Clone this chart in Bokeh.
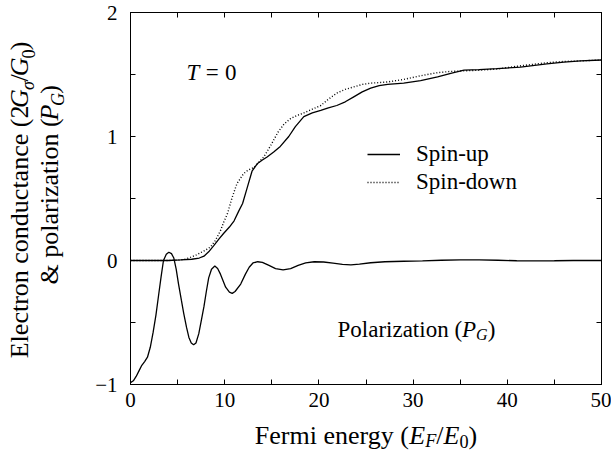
import math
from bokeh.plotting import figure
from bokeh.models import Range1d, FixedTicker, LinearAxis, Label, Legend, LegendItem
from bokeh.layouts import row, column
from bokeh.embed import file_html
from bokeh.resources import INLINE

# ---------------- data ----------------
pol_x = [0, 0.3, 0.6, 0.9, 1.2, 1.5, 1.8, 2.1, 2.4, 2.7, 3.0, 3.25, 3.5, 3.8, 4.07, 4.35,
         4.6, 4.85, 5.1, 5.4, 5.66, 5.95, 6.2, 6.45, 6.7, 6.95, 7.25, 7.5, 7.8, 8.05, 8.3,
         8.6, 8.95, 9.25, 9.55, 10.1, 10.5, 10.8, 11.1, 11.7, 12.2, 12.6, 13.0, 13.5, 14.0,
         14.7, 15.4, 16.2, 17.0, 17.8, 18.6, 19.5, 20.5, 21.5, 22.5, 23.4, 24.3, 25.5, 27,
         29, 31, 33, 35, 37, 39, 41, 43, 45, 47, 50]
pol_y = [-0.985, -0.97, -0.935, -0.89, -0.845, -0.815, -0.78, -0.70, -0.58, -0.44, -0.27,
         -0.13, 0.0, 0.05, 0.067, 0.055, 0.02, -0.07, -0.19, -0.32, -0.43, -0.54, -0.62,
         -0.665, -0.68, -0.665, -0.59, -0.49, -0.37, -0.25, -0.14, -0.07, -0.045, -0.065,
         -0.11, -0.215, -0.255, -0.265, -0.25, -0.19, -0.11, -0.054, -0.02, -0.01, -0.015,
         -0.04, -0.065, -0.075, -0.065, -0.04, -0.02, -0.01, -0.012, -0.022, -0.032, -0.035,
         -0.03, -0.018, -0.01, -0.006, -0.003, 0.002, 0.005, 0.005, 0.002, -0.002, -0.003,
         -0.002, 0.0, 0.0]

up_x = [0, 2, 4, 5.3, 6.5, 7.3, 7.8, 8.3, 8.84, 9.4, 9.9, 10.5, 11.0, 11.5, 11.9, 12.4,
        12.9, 13.45, 14.0, 14.5, 15.2, 15.9, 16.8, 17.5, 18.4, 19.3, 20.2, 21.0, 21.9, 22.8,
        23.7, 24.6, 25.5, 26.4, 27.3, 29.0, 30.8, 32.6, 34, 35.4, 37, 38.9, 41.4, 44.2, 46,
        47.8, 50]
up_y = [0, 0, 0, 0.005, 0.01, 0.02, 0.035, 0.07, 0.12, 0.175, 0.22, 0.27, 0.32, 0.40, 0.46,
        0.59, 0.72, 0.78, 0.81, 0.835, 0.875, 0.92, 1.0, 1.08, 1.16, 1.19, 1.21, 1.23, 1.25,
        1.28, 1.32, 1.36, 1.39, 1.41, 1.42, 1.43, 1.45, 1.48, 1.51, 1.535, 1.54, 1.547, 1.56,
        1.585, 1.60, 1.61, 1.617]

down_x = [0, 4, 5.0, 5.7, 6.4, 7.0, 7.5, 8.0, 8.5, 9.0, 9.55, 9.9, 10.3, 10.8, 11.3, 12.0,
          12.5, 13.1, 13.6, 14.15, 14.9, 15.7, 16.3, 17.0, 17.7, 18.4, 19.3, 20.2, 21.0, 21.9,
          22.8, 23.7, 24.6, 25.5, 27.3, 29.0, 30.8, 32.6, 34, 37.2, 39, 40.7, 42.5, 44.2, 46,
          47.8, 50]
down_y = [0, 0, 0.003, 0.008, 0.027, 0.045, 0.065, 0.085, 0.11, 0.16, 0.24, 0.31, 0.38,
          0.51, 0.62, 0.70, 0.73, 0.75, 0.79, 0.835, 0.93, 1.04, 1.10, 1.145, 1.17, 1.19,
          1.22, 1.25, 1.30, 1.35, 1.38, 1.40, 1.42, 1.43, 1.44, 1.46, 1.49, 1.515, 1.525,
          1.535, 1.545, 1.563, 1.58, 1.595, 1.605, 1.61, 1.617]

x_major = [0, 10, 20, 30, 40, 50]
x_minor = [5, 15, 25, 35, 45]
y_major = [-1, 0, 1, 2]
y_minor = [-0.5, 0.5, 1.5]
y_tick_labels = {-1: "\u22121", 0: "0", 1: "1", 2: "2"}

# ---------------- layout ----------------
W, H = 611, 454
YW = 92            # width of the strip carrying the y-axis title
XH = 38            # height of the strip carrying the x-axis title
PW, PH = W - YW, H - XH
FL, FR, FT, FB = 130, 601, 12, 384   # frame edges in page px
XMIN, XMAX, YMIN, YMAX = 0, 50, -1, 2
FONT = "Liberation Serif"
TICK_FS = "21px"
TXT = 23
LBL = 26

p = figure(width=PW, height=PH, output_backend="svg", toolbar_location=None,
           x_range=Range1d(XMIN, XMAX), y_range=Range1d(YMIN, YMAX),
           min_border_left=FL - YW, min_border_right=W - FR, min_border_top=FT,
           min_border_bottom=PH - FB, x_axis_type=None, y_axis_type=None)
p.grid.visible = False
p.outline_line_color = "black"
p.outline_line_width = 1
p.background_fill_color = "white"
p.border_fill_color = "white"


def style_axis(ax, show_labels, standoff=8):
    ax.axis_line_color = "black"
    ax.axis_line_width = 1
    ax.major_tick_in = 5
    ax.major_tick_out = 0
    ax.minor_tick_in = 5
    ax.minor_tick_out = 0
    ax.major_tick_line_color = "black"
    ax.minor_tick_line_color = "black"
    ax.major_label_text_font = FONT
    ax.major_label_text_font_size = TICK_FS
    ax.major_label_text_color = "black"
    ax.major_label_standoff = standoff if show_labels else 0
    ax.axis_label = None


xt = FixedTicker(ticks=x_major, minor_ticks=x_minor)
yt = FixedTicker(ticks=y_major, minor_ticks=y_minor)

bx = LinearAxis(ticker=xt); style_axis(bx, True, 8)
tx = LinearAxis(ticker=xt); style_axis(tx, False)
tx.major_label_overrides = {t: "" for t in x_major}
ly = LinearAxis(ticker=yt); style_axis(ly, True, 13)
ly.major_label_overrides = y_tick_labels
ry = LinearAxis(ticker=yt); style_axis(ry, False)
ry.major_label_overrides = {t: "" for t in y_major}
p.add_layout(bx, "below")
p.add_layout(tx, "above")
p.add_layout(ly, "left")
p.add_layout(ry, "right")

# ---------------- curves ----------------
r_pol = p.line(pol_x, pol_y, line_color="black", line_width=1.3)
r_up = p.line(up_x, up_y, line_color="black", line_width=1.3)
r_down = p.line(down_x, down_y, line_color="black", line_width=1.4, line_dash="1 2")

legend = Legend(items=[LegendItem(label="Spin-up", renderers=[r_up]),
                       LegendItem(label="Spin-down", renderers=[r_down])],
                location=(237, 189), glyph_width=33, glyph_height=24, label_standoff=16,
                spacing=2, padding=0, margin=0, border_line_alpha=0,
                background_fill_alpha=0, label_text_font=FONT,
                label_text_font_size=f"{TXT}px", label_text_color="black",
                label_height=24)
p.add_layout(legend)

# ---------------- rich text helper ----------------
REG = {' ': 250, '(': 333, ')': 333, '/': 278, '&': 778, '-': 333, '=': 564,
       'a': 444, 'b': 500, 'c': 444, 'd': 500, 'e': 444, 'f': 333, 'g': 500, 'h': 500,
       'i': 278, 'l': 278, 'm': 778, 'n': 500, 'o': 500, 'p': 500, 'r': 333, 's': 389,
       't': 278, 'u': 500, 'y': 500, 'z': 444, 'E': 611, 'F': 556, 'G': 722, 'P': 556,
       'S': 556, 'T': 611}
ITA = {'E': 611, 'F': 611, 'G': 722, 'P': 611, 'T': 556, '\u03c3': 520}
MID = 0.33     # distance (em) from the baseline to the "middle" anchor
VCORR = 0.057  # empirical drift of rotated text along its reading direction (per px width)


def tw(s, italic, size):
    tbl = ITA if italic else REG
    return sum(tbl.get(c, 500) for c in s) * size / 1000.0


def rich(fig, to_x, to_y, pieces, size, anchor_px, base_px, align="center", vertical=False):
    """pieces: (text, italic, subscript) or (None, gap_em). Coordinates in page px
    (y measured downward). Vertical text reads bottom-to-top."""
    sub_size = size * 0.7
    widths = []
    for pc in pieces:
        if pc[0] is None:
            widths.append(pc[1] * size)
        else:
            t, it, sb = pc
            widths.append(tw(t, it, sub_size if sb else size))
    total = sum(widths)
    if align == "center":
        pos = anchor_px - total / 2 if not vertical else anchor_px + total / 2
    else:
        pos = anchor_px
    for pc, w in zip(pieces, widths):
        if pc[0] is not None:
            t, it, sb = pc
            fs = sub_size if sb else size
            base = base_px + (0.22 * size if sb else 0)
            common = dict(text=t, text_font=FONT, text_font_size=f"{fs:.1f}px",
                          text_font_style="italic" if it else "normal",
                          text_color="black")
            if not vertical:
                lab = Label(x=to_x(pos), y=to_y(base), text_align="left",
                            text_baseline="alphabetic", **common)
            else:
                mid = base - MID * fs
                cy = pos - w / 2 + VCORR * w
                lab = Label(x=to_x(mid), y=to_y(cy), angle=math.pi / 2,
                            text_align="center", text_baseline="middle", **common)
            fig.add_layout(lab)
        pos = pos + w if not vertical else pos - w


# main-frame converters (page px -> data)
def mdx(px):
    return XMIN + (px - FL) * (XMAX - XMIN) / (FR - FL)


def mdy(py):
    return YMIN + (FB - py) * (YMAX - YMIN) / (FB - FT)


rich(p, mdx, mdy, [("T", True, False), (None, 0.28), ("=", False, False), (None, 0.28),
                   ("0", False, False)], TXT, 211, 72)
rich(p, mdx, mdy, [("Polarization (", False, False), ("P", True, False), ("G", True, True),
                   (")", False, False)], TXT, 337, 329, align="left")


def strip(w, h):
    # ranges in pixels, y measured upward from the strip bottom
    f = figure(width=w, height=h, output_backend="svg", toolbar_location=None,
               x_range=Range1d(0, w), y_range=Range1d(0, h), min_border=0,
               x_axis_type=None, y_axis_type=None)
    f.grid.visible = False
    f.outline_line_color = None
    f.background_fill_color = "white"
    f.border_fill_color = "white"
    return f


# y-axis title strip (left of the plot; its top is the page top)
yfig = strip(YW, PH)
rich(yfig, lambda v: v, lambda v: PH - v,
     [("Electron conductance (2", False, False), ("G", True, False), ("\u03c3", True, True),
      ("/", False, False), ("G", True, False), ("0", False, True), (")", False, False)],
     LBL, 195, 28, vertical=True)
rich(yfig, lambda v: v, lambda v: PH - v,
     [("& polarization (", False, False), ("P", True, False), ("G", True, True),
      (")", False, False)],
     LBL, 183, 58, vertical=True)

# x-axis title strip (below the plot; its top is at page y = PH)
xfig = strip(W, XH)
rich(xfig, lambda v: v, lambda v: H - v,
     [("Fermi energy (", False, False), ("E", True, False), ("F", True, True),
      ("/", False, False), ("E", True, False), ("0", False, True), (")", False, False)],
     LBL, (FL + FR) / 2, 435)

layout = column(row(yfig, p, spacing=0), xfig, spacing=0)
open("out.html", "w").write(file_html(layout, INLINE))
